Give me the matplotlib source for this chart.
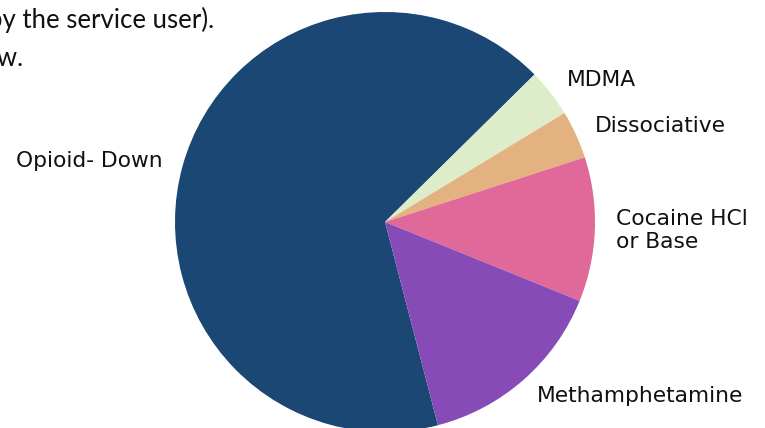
import matplotlib
matplotlib.use('Agg')
import matplotlib.pyplot as plt

# substance counts reported by service users
labels = ['Opioid- Down', 'MDMA', 'Dissociative', 'Cocaine HCl\nor Base', 'Methamphetamine']
counts = [18, 1, 1, 3, 4]
colors = ['#1a4774', '#ddedc9', '#e4b180', '#e0699a', '#874bb8']

fig = plt.figure(figsize=(7.65, 4.28), dpi=100)

# slide text running above the chart
fig.text(214 / 765, 1 - 20 / 428, 'by the service user).', ha='right', va='center',
         fontsize=18.5, family='Lato', color='#111111')
fig.text(23 / 765, 1 - 59 / 428, 'below.', ha='right', va='center',
         fontsize=18.5, family='Lato', color='#111111')

ax = fig.add_axes([175 / 765, -4 / 428, 420 / 765, 420 / 428])
ax.pie(counts, labels=labels, colors=colors, startangle=284.6, counterclock=False,
       labeldistance=1.1, textprops={'fontsize': 15.7, 'color': '#111111'})
ax.set_xlim(-1, 1)
ax.set_ylim(-1, 1)
ax.set_aspect('equal')
ax.axis('off')

plt.savefig('out.png', dpi=100)
